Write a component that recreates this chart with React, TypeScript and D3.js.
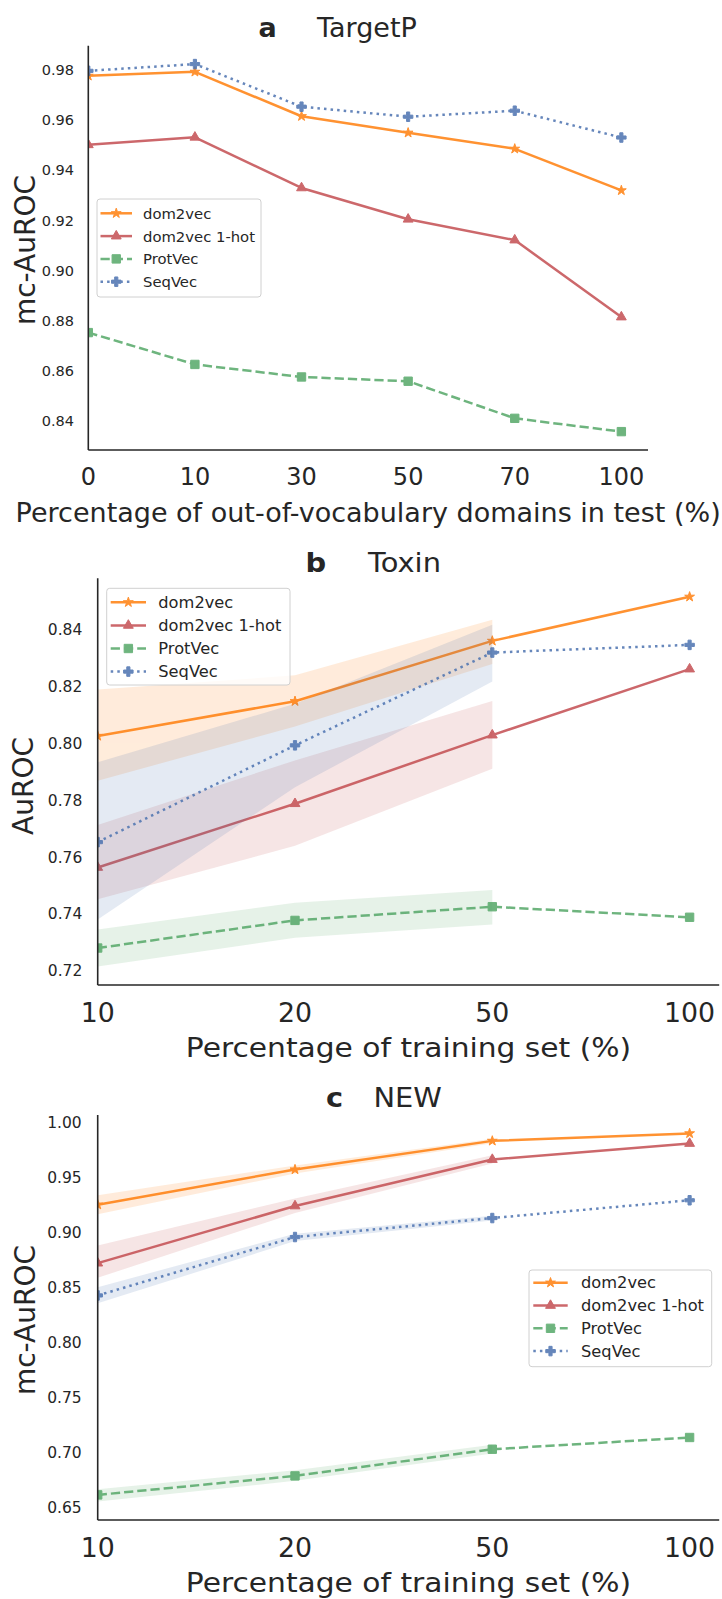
import React from "react";
import * as d3 from "d3";

const W = 722;
const H = 1599;
const INK = "#262626";
const FONT = "'DejaVu Sans', Verdana, sans-serif";

// ---- a: TargetP, share of out-of-vocabulary domains in the test set ----
const oovLevels = ["0", "10", "30", "50", "70", "100"];
const targetpDom2vec = [0.9777, 0.9793, 0.9616, 0.955, 0.9486, 0.932];
const targetpOneHot = [0.9502, 0.9532, 0.933, 0.9205, 0.9122, 0.8815];
const targetpProtVec = [0.8753, 0.8626, 0.8576, 0.8559, 0.8411, 0.8358];
const targetpSeqVec = [0.9797, 0.9824, 0.9654, 0.9614, 0.9638, 0.9531];
const targetpTicks = [0.84, 0.86, 0.88, 0.9, 0.92, 0.94, 0.96, 0.98];

// ---- b: Toxin, share of the training set (bands: spread over runs) ----
const trainLevels = ["10", "20", "50", "100"];
const toxinDom2vec = [0.8027, 0.8149, 0.8361, 0.8516];
const toxinDom2vecLo = [0.787, 0.806, 0.828];
const toxinDom2vecHi = [0.819, 0.824, 0.8435];
const toxinOneHot = [0.7565, 0.7789, 0.803, 0.8262];
const toxinOneHotLo = [0.7453, 0.7641, 0.7912];
const toxinOneHotHi = [0.7714, 0.7941, 0.815];
const toxinProtVec = [0.7282, 0.7379, 0.7427, 0.739];
const toxinProtVecLo = [0.7217, 0.7318, 0.7365];
const toxinProtVecHi = [0.7347, 0.7441, 0.7486];
const toxinSeqVec = [0.7654, 0.7994, 0.832, 0.8347];
const toxinSeqVecLo = [0.7382, 0.7847, 0.8218];
const toxinSeqVecHi = [0.7935, 0.814, 0.8418];
const toxinTicks = [0.72, 0.74, 0.76, 0.78, 0.8, 0.82, 0.84];

// ---- c: NEW, share of the training set ----
const newDom2vec = [0.926, 0.958, 0.9841, 0.9909];
const newDom2vecLo = [0.9172, 0.9544, 0.982];
const newDom2vecHi = [0.9345, 0.9617, 0.986];
const newOneHot = [0.8727, 0.9248, 0.9671, 0.9817];
const newOneHotLo = [0.8594, 0.9184, 0.9635];
const newOneHotHi = [0.8889, 0.9315, 0.9711];
const newProtVec = [0.6616, 0.6789, 0.7032, 0.7139];
const newProtVecLo = [0.6555, 0.6744, 0.6993];
const newProtVecHi = [0.6668, 0.6841, 0.7072];
const newSeqVec = [0.8433, 0.8965, 0.9138, 0.93];
const newSeqVecLo = [0.8362, 0.8928, 0.9115];
const newSeqVecHi = [0.8508, 0.8995, 0.9158];
const newTicks = [0.65, 0.7, 0.75, 0.8, 0.85, 0.9, 0.95, 1.0];

const methodNames = ["dom2vec", "dom2vec 1-hot", "ProtVec", "SeqVec"];

// line/marker look of each method, in legend order
const STYLES = [
  { color: "#ff7f0e", symbol: d3.symbolStar, size: 30, dash: "none" },
  { color: "#c44e52", symbol: d3.symbolTriangle, size: 42, dash: "none" },
  { color: "#55a868", symbol: d3.symbolSquare, size: 70, dash: "9.25 4" },
  { color: "#4c72b0", symbol: d3.symbolCross, size: 50, dash: "2.5 4.1" },
];

type Series = { values: number[]; lo?: number[]; hi?: number[] };

type PanelCfg = {
  id: string;
  cats: string[];
  series: Series[];
  ticks: number[];
  frame: { left: number; right: number; top: number; bottom: number };
  yTick: { size: number; pad: number };
  xTick: { size: number; base: number; sx: number };
  xLabel: { text: string; size: number; base: number; sx: number };
  yLabel: { text: string; size: number; x: number; cy: number };
  title: { letter: string; name: string; letterX: number; nameX: number; base: number; size: number; sx: number };
  legend: { x0: number; y0: number; x1: number; y1: number; h0: number; h1: number; tx: number; row0: number; gap: number; size: number; sx: number };
};

function Txt(props: {
  x: number; y: number; size: number; sx?: number; rotate?: number;
  anchor?: string; weight?: string | number; baseline?: string; children: React.ReactNode;
}) {
  const { x, y, size, sx = 1, rotate = 0, anchor = "start", weight = "normal", baseline, children } = props;
  return (
    <text
      transform={`translate(${x},${y}) rotate(${rotate}) scale(${sx},1)`}
      fontSize={size}
      fontFamily={FONT}
      fontWeight={weight}
      textAnchor={anchor}
      dominantBaseline={baseline}
      fill={INK}
    >
      {children}
    </text>
  );
}

function Marker({ k, x, y }: { k: number; x: number; y: number }) {
  const st = STYLES[k];
  const d = d3.symbol(st.symbol, st.size)() || "";
  return <path transform={`translate(${x},${y})`} d={d} fill={st.color} stroke={st.color} strokeWidth={1} />;
}

function Panel({ cfg }: { cfg: PanelCfg }) {
  const { frame, cats, series } = cfg;
  const n = cats.length;
  const x = d3.scaleLinear().domain([0, (n - 1) * 1.05]).range([frame.left, frame.right]);
  const all = series.flatMap((s) => [...s.values, ...(s.lo || []), ...(s.hi || [])]);
  const [mn, mx] = d3.extent(all) as [number, number];
  const pad = (mx - mn) * 0.05;
  const y = d3.scaleLinear().domain([mn - pad, mx + pad]).range([frame.bottom, frame.top]);
  const clipId = `clip-${cfg.id}`;
  const lg = cfg.legend;
  const fmt = d3.format(".2f");

  return (
    <g>
      <defs>
        <clipPath id={clipId}>
          <rect x={frame.left} y={frame.top} width={frame.right - frame.left} height={frame.bottom - frame.top} />
        </clipPath>
      </defs>

      <g clipPath={`url(#${clipId})`}>
        {series.map((s, k) => {
          const st = STYLES[k];
          const line = d3.line<number>().x((_, i) => x(i)).y((v) => y(v));
          let band: string | null = null;
          if (s.lo && s.hi) {
            const lo = s.lo;
            const hi = s.hi;
            band = d3.area<number>()
              .x((_, i) => x(i))
              .y0((_, i) => y(lo[i]))
              .y1((_, i) => y(hi[i]))(lo);
          }
          return (
            <g key={k}>
              {band && <path d={band} fill={st.color} fillOpacity={0.15} stroke="none" />}
              <g opacity={0.85}>
                <path
                  d={line(s.values) || ""}
                  fill="none"
                  stroke={st.color}
                  strokeWidth={2.5}
                  strokeDasharray={st.dash}
                  strokeLinejoin="round"
                />
                {s.values.map((v, i) => (
                  <Marker key={i} k={k} x={x(i)} y={y(v)} />
                ))}
              </g>
            </g>
          );
        })}
      </g>

      {/* spines */}
      <line x1={frame.left} x2={frame.left} y1={frame.top} y2={frame.bottom} stroke={INK} strokeWidth={1.6} />
      <line x1={frame.left} x2={frame.right} y1={frame.bottom} y2={frame.bottom} stroke={INK} strokeWidth={1.6} />

      {/* y tick labels */}
      {cfg.ticks.map((t) => (
        <Txt key={t} x={frame.left - cfg.yTick.pad} y={y(t)} size={cfg.yTick.size} anchor="end" baseline="central">
          {fmt(t)}
        </Txt>
      ))}

      {/* x tick labels */}
      {cats.map((c, i) => (
        <Txt key={c} x={x(i)} y={cfg.xTick.base} size={cfg.xTick.size} sx={cfg.xTick.sx} anchor="middle">
          {c}
        </Txt>
      ))}

      <Txt x={(frame.left + frame.right) / 2} y={cfg.xLabel.base} size={cfg.xLabel.size} sx={cfg.xLabel.sx} anchor="middle">
        {cfg.xLabel.text}
      </Txt>
      <Txt x={cfg.yLabel.x} y={cfg.yLabel.cy} size={cfg.yLabel.size} rotate={-90} anchor="middle">
        {cfg.yLabel.text}
      </Txt>

      {/* title */}
      <Txt x={cfg.title.letterX} y={cfg.title.base} size={cfg.title.size} weight="bold" sx={cfg.title.sx}>
        {cfg.title.letter}
      </Txt>
      <Txt x={cfg.title.nameX} y={cfg.title.base} size={cfg.title.size} sx={cfg.title.sx}>
        {cfg.title.name}
      </Txt>

      {/* legend */}
      <rect
        x={lg.x0}
        y={lg.y0}
        width={lg.x1 - lg.x0}
        height={lg.y1 - lg.y0}
        rx={3}
        fill="#ffffff"
        fillOpacity={0.8}
        stroke="#d0d0d0"
        strokeWidth={1}
      />
      {methodNames.map((name, k) => {
        const ry = lg.row0 + k * lg.gap;
        const st = STYLES[k];
        return (
          <g key={name}>
            <g opacity={0.85}>
              <line x1={lg.h0} x2={lg.h1} y1={ry} y2={ry} stroke={st.color} strokeWidth={2.5} strokeDasharray={st.dash} />
              <Marker k={k} x={(lg.h0 + lg.h1) / 2} y={ry} />
            </g>
            <Txt x={lg.tx} y={ry} size={lg.size} sx={lg.sx} baseline="central">
              {name}
            </Txt>
          </g>
        );
      })}
    </g>
  );
}

const panelA: PanelCfg = {
  id: "a",
  cats: oovLevels,
  series: [
    { values: targetpDom2vec },
    { values: targetpOneHot },
    { values: targetpProtVec },
    { values: targetpSeqVec },
  ],
  ticks: targetpTicks,
  frame: { left: 88.3, right: 648, top: 45.7, bottom: 450 },
  yTick: { size: 14.5, pad: 14.3 },
  xTick: { size: 24, base: 485, sx: 1 },
  xLabel: { text: "Percentage of out-of-vocabulary domains in test (%)", size: 27, base: 521.7, sx: 1 },
  yLabel: { text: "mc-AuROC", size: 28, x: 35, cy: 250 },
  title: { letter: "a", name: "TargetP", letterX: 258.5, nameX: 317, base: 36.7, size: 27, sx: 1 },
  legend: { x0: 97, y0: 199, x1: 261, y1: 297, h0: 100.5, h1: 132, tx: 143, row0: 213.3, gap: 22.8, size: 14.8, sx: 1 },
};

const panelB: PanelCfg = {
  id: "b",
  cats: trainLevels,
  series: [
    { values: toxinDom2vec, lo: toxinDom2vecLo, hi: toxinDom2vecHi },
    { values: toxinOneHot, lo: toxinOneHotLo, hi: toxinOneHotHi },
    { values: toxinProtVec, lo: toxinProtVecLo, hi: toxinProtVecHi },
    { values: toxinSeqVec, lo: toxinSeqVecLo, hi: toxinSeqVecHi },
  ],
  ticks: toxinTicks,
  frame: { left: 97.7, right: 719.2, top: 578.3, bottom: 985 },
  yTick: { size: 15.5, pad: 15.4 },
  xTick: { size: 26, base: 1021.7, sx: 1.03 },
  xLabel: { text: "Percentage of training set (%)", size: 27, base: 1057, sx: 1.1 },
  yLabel: { text: "AuROC", size: 28, x: 33.3, cy: 786 },
  title: { letter: "b", name: "Toxin", letterX: 305.5, nameX: 368, base: 571.7, size: 27, sx: 1.07 },
  legend: { x0: 106.7, y0: 588.3, x1: 290, y1: 685, h0: 110.7, h1: 146, tx: 158.3, row0: 602.3, gap: 23.1, size: 15.8, sx: 1.03 },
};

const panelC: PanelCfg = {
  id: "c",
  cats: trainLevels,
  series: [
    { values: newDom2vec, lo: newDom2vecLo, hi: newDom2vecHi },
    { values: newOneHot, lo: newOneHotLo, hi: newOneHotHi },
    { values: newProtVec, lo: newProtVecLo, hi: newProtVecHi },
    { values: newSeqVec, lo: newSeqVecLo, hi: newSeqVecHi },
  ],
  ticks: newTicks,
  frame: { left: 97.7, right: 719.2, top: 1115, bottom: 1520 },
  yTick: { size: 15.5, pad: 16 },
  xTick: { size: 26, base: 1556.7, sx: 1.03 },
  xLabel: { text: "Percentage of training set (%)", size: 27, base: 1591.7, sx: 1.1 },
  yLabel: { text: "mc-AuROC", size: 28, x: 35, cy: 1320 },
  title: { letter: "c", name: "NEW", letterX: 326, nameX: 373.5, base: 1106.7, size: 27, sx: 1.07 },
  legend: { x0: 529, y0: 1270, x1: 711.7, y1: 1366.7, h0: 533.3, h1: 567.7, tx: 581, row0: 1282.7, gap: 22.8, size: 15.8, sx: 1.03 },
};

export default function App() {
  return (
    <div style={{ position: "absolute", left: 0, top: 0 }}>
      <svg width={W} height={H} viewBox={`0 0 ${W} ${H}`} style={{ display: "block", background: "#ffffff" }}>
        <rect x={0} y={0} width={W} height={H} fill="#ffffff" />
        <Panel cfg={panelA} />
        <Panel cfg={panelB} />
        <Panel cfg={panelC} />
      </svg>
    </div>
  );
}
